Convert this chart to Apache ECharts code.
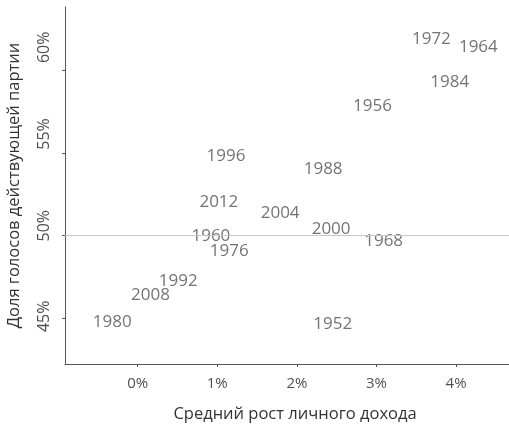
<!DOCTYPE html>
<html>
<head>
<meta charset="utf-8">
<script src="https://cdn.jsdelivr.net/npm/echarts@6/dist/echarts.min.js"></script>
<style>html,body{margin:0;padding:0;background:#fff}#c{width:509px;height:427px}</style>
</head>
<body>
<div id="c"></div>
<script>
const years = ['1952','1956','1960','1964','1968','1972','1976','1980','1984','1988','1992','1996','2000','2004','2008','2012'];
const growth = [2.45, 2.95, 0.92, 4.28, 3.09, 3.69, 1.15, -0.32, 3.92, 2.33, 0.51, 1.11, 2.43, 1.79, 0.16, 1.02];
const vote = [44.64, 57.84, 49.98, 61.42, 49.67, 61.87, 49.05, 44.76, 59.27, 54.03, 47.27, 54.82, 50.38, 51.37, 46.41, 52.05];
const xTicks = [0, 1, 2, 3, 4];
const yTicks = [45, 50, 55, 60];
const refLine = 50;

const FONT = '"Open Sans", "Noto Sans", sans-serif';
const TXT = '#505050';
const AX = '#555555';

const yPad = {45: 4, 50: 20, 55: 38, 60: 46};
const rich = {};
yTicks.forEach(v => { rich['p' + v] = {padding: [0, 0, 0, yPad[v]], fontSize: 16, color: TXT, fontFamily: FONT}; });

const chart = echarts.init(document.getElementById('c'), null, {renderer: 'canvas'});
chart.setOption({
  animation: false,
  backgroundColor: '#ffffff',
  grid: {left: 65, right: 0, top: 7, bottom: 63, containLabel: false, outerBoundsMode: 'none'},
  xAxis: {
    type: 'value', min: -0.913, max: 4.665,
    name: 'Средний рост личного дохода', nameLocation: 'middle', nameGap: 42,
    nameTextStyle: {fontSize: 16.5, color: '#333', fontFamily: FONT, padding: [0, 0, 0, 16]},
    axisLine: {show: true, onZero: false, lineStyle: {color: AX, width: 1}},
    axisTick: {show: true, length: 3, customValues: xTicks, lineStyle: {color: AX}},
    axisLabel: {customValues: xTicks, formatter: v => v + '%', fontSize: 15, color: TXT, fontFamily: FONT, margin: 12},
    splitLine: {show: false}
  },
  yAxis: {
    type: 'value', min: 42.24, max: 63.83,
    name: 'Доля голосов действующей партии', nameLocation: 'middle', nameGap: 42, nameRotate: 90,
    nameTextStyle: {fontSize: 16.5, color: '#333', fontFamily: FONT},
    axisLine: {show: true, onZero: false, lineStyle: {color: AX, width: 1}},
    axisTick: {show: true, length: 3, customValues: yTicks, lineStyle: {color: AX}},
    axisLabel: {customValues: yTicks, rotate: 90, margin: 13,
      formatter: v => '{p' + v + '|' + v + '%}', rich: rich, fontSize: 16, color: TXT, fontFamily: FONT},
    splitLine: {show: false}
  },
  series: [{
    type: 'scatter',
    symbolSize: 1,
    itemStyle: {color: 'rgba(0,0,0,0)'},
    data: years.map((y, i) => [growth[i], vote[i], y]),
    label: {show: true, position: 'inside', formatter: p => p.data[2], fontSize: 17, color: TXT, fontFamily: FONT},
    labelLayout: {hideOverlap: false},
    markLine: {
      silent: true, symbol: 'none', label: {show: false},
      lineStyle: {color: '#c8c8c8', width: 1, type: 'solid'},
      data: [{yAxis: refLine}]
    },
    z: 3
  }]
});
</script>
</body>
</html>
